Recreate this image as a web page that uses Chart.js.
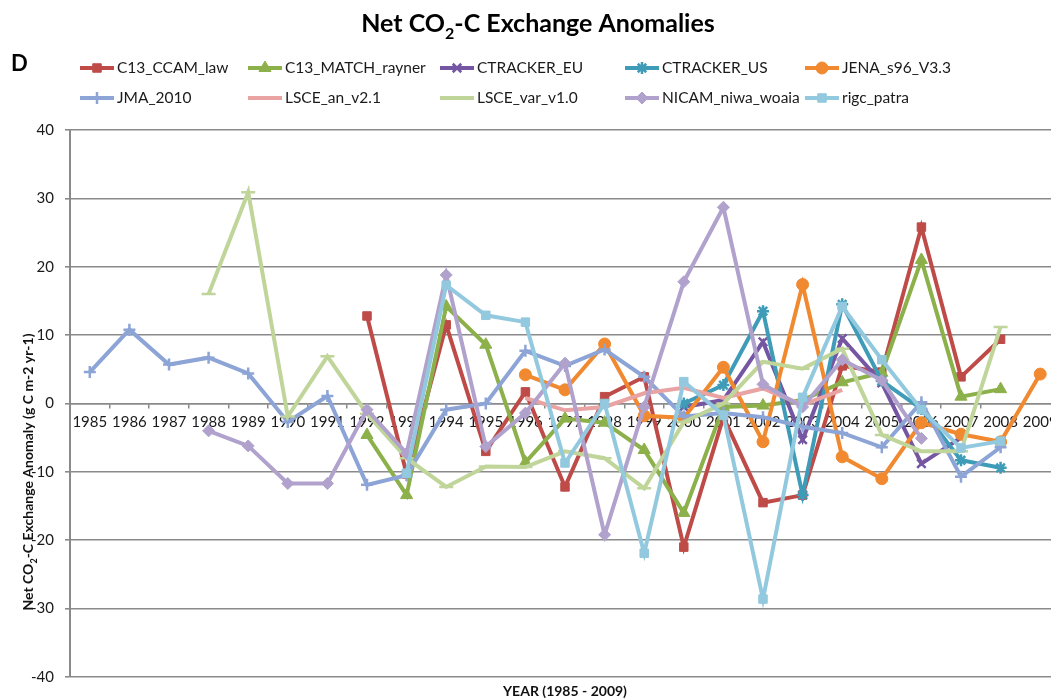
<!DOCTYPE html>
<html lang="en">
<head>
<meta charset="UTF-8">
<title>Net CO2-C Exchange Anomalies</title>
<script src="https://cdn.jsdelivr.net/npm/chart.js@4"></script>
<style>
  html, body { margin: 0; padding: 0; background: #fff; overflow: hidden; }
  #wrap { position: relative; width: 1051px; height: 699px; overflow: hidden; }
  #chart { position: absolute; left: 0; top: 0; }
</style>
</head>
<body>
<div id="wrap"><canvas id="chart" width="1075" height="699"></canvas></div>
<script>
// years on the category axis
const years = ['1985','1986','1987','1988','1989','1990','1991','1992','1993','1994','1995','1996',
  '1997','1998','1999','2000','2001','2002','2003','2004','2005','2006','2007','2008','2009'];

// anomalies, g C m-2 yr-1 (null = no value for that year)
const c13CcamLaw = [null,null,null,null,null,null,null,12.8,-10.3,11.5,-7.0,1.7,-12.2,1.0,3.9,-21.0,-2.0,-14.5,-13.4,5.5,4.6,25.8,3.9,9.4,null];
const c13MatchRayner = [null,null,null,null,null,null,null,-4.6,-13.4,14.2,8.6,-8.6,-2.2,-2.8,-6.8,-16.0,-0.5,-0.3,0.5,3.1,4.5,21.0,1.0,2.1,null];
const ctrackerEu = [null,null,null,null,null,null,null,null,null,null,null,null,null,null,null,-0.5,0.5,9.0,-5.3,9.5,3.0,-8.8,-5.0,null,null];
const ctrackerUs = [null,null,null,null,null,null,null,null,null,null,null,null,null,null,null,0.0,2.7,13.5,-13.4,14.5,3.3,-0.8,-8.3,-9.4,null];
const jenaS96 = [null,null,null,null,null,null,null,null,null,null,null,4.2,2.0,8.7,-1.8,-2.1,5.3,-5.6,17.4,-7.8,-11.0,-2.8,-4.5,-5.6,4.3];
const jma2010 = [4.6,10.8,5.7,6.7,4.4,-2.7,1.1,-11.9,-10.5,-0.9,0.0,7.7,5.5,7.9,3.9,-1.9,-1.4,-2.0,-3.4,-4.3,-6.4,0.2,-10.7,-6.4,null];
const lsceAn = [null,null,null,null,null,null,null,null,null,null,null,0.8,-1.0,-0.5,1.5,2.3,0.8,2.2,-0.2,2.0,null,null,null,null,null];
const lsceVar = [null,null,null,16.0,30.9,-1.9,6.9,-1.5,-8.0,-12.2,-9.2,-9.3,-7.0,-8.0,-12.4,-2.7,0.0,6.1,5.1,8.0,-4.6,-7.0,-7.0,11.2,null];
const nicamWoaia = [null,null,null,-4.0,-6.2,-11.7,-11.7,-0.9,-7.3,18.8,-6.3,-1.4,5.9,-19.2,-0.5,17.8,28.7,2.8,-0.5,6.4,3.4,-5.1,null,null,null];
const rigcPatra = [null,null,null,null,null,null,null,null,-10.2,17.3,12.9,11.9,-8.7,0.0,-21.9,3.2,-1.7,-28.6,0.9,14.2,6.4,-0.9,-6.5,-5.5,null];

const seriesNames = ['C13_CCAM_law','C13_MATCH_rayner','CTRACKER_EU','CTRACKER_US','JENA_s96_V3.3',
  'JMA_2010','LSCE_an_v2.1','LSCE_var_v1.0','NICAM_niwa_woaia','rigc_patra'];
const seriesValues = [c13CcamLaw, c13MatchRayner, ctrackerEu, ctrackerUs, jenaS96,
  jma2010, lsceAn, lsceVar, nicamWoaia, rigcPatra];

// look of each series: colour, marker, marker size
const looks = [
  { color: '#BE4B48', marker: 'rect',     r: 6 },
  { color: '#8CB04A', marker: 'triangle', r: 7 },
  { color: '#7556A2', marker: 'crossRot', r: 6 },
  { color: '#3F9CB8', marker: 'star',     r: 6 },
  { color: '#F0892F', marker: 'circle',   r: 6 },
  { color: '#8CA5D6', marker: 'cross',    r: 6 },
  { color: '#E9A3A2', marker: false,      r: 0 },
  { color: '#C0D59A', marker: 'line',     r: 7 },
  { color: '#B0A2CC', marker: 'rectRot',  r: 6 },
  { color: '#93C9DE', marker: 'rect',     r: 6 }
];
const stroked = ['crossRot', 'star', 'cross', 'line'];

const FONT = 'Lato, "Open Sans", sans-serif';
const GRID = '#8a8a8a';

const datasets = seriesNames.map((name, i) => {
  const lk = looks[i];
  return {
    label: name,
    data: seriesValues[i],
    borderColor: lk.color,
    backgroundColor: lk.color,
    borderWidth: 4,
    pointStyle: lk.marker,
    pointRadius: lk.r,
    pointHoverRadius: lk.r,
    pointBorderWidth: stroked.includes(lk.marker) ? 2.5 : 1,
    tension: 0,
    spanGaps: false,
    order: seriesNames.length - i   // first series at the bottom, last on top
  };
});

// draws text where some pieces are subscripts
function drawRich(ctx, parts, x, y, size, weight, align) {
  const mainFont = `${weight} ${size}px ${FONT}`;
  const subFont = `${weight} ${Math.round(size * 0.62)}px ${FONT}`;
  let total = 0;
  parts.forEach(([t, sub]) => { ctx.font = sub ? subFont : mainFont; total += ctx.measureText(t).width; });
  let cx = align === 'center' ? x - total / 2 : x;
  ctx.textAlign = 'left';
  ctx.textBaseline = 'alphabetic';
  parts.forEach(([t, sub]) => {
    ctx.font = sub ? subFont : mainFont;
    ctx.fillText(t, cx, sub ? y + size * 0.28 : y);
    cx += ctx.measureText(t).width;
  });
}

const decorations = {
  id: 'decorations',
  afterDraw(chart) {
    const ctx = chart.ctx;
    ctx.save();
    ctx.fillStyle = '#000';

    // title
    drawRich(ctx, [['Net CO', false], ['2', true], ['-C Exchange Anomalies', false]], 538, 32, 25, 'bold', 'center');

    // panel letter
    ctx.font = `bold 22px ${FONT}`;
    ctx.textAlign = 'left';
    ctx.fillText('D', 11, 71);

    // legend in five columns, two rows
    const cols = [80, 248, 440, 625, 805];
    const rows = [68, 98];
    datasets.forEach((ds, i) => {
      const x0 = cols[i % 5], y0 = rows[Math.floor(i / 5)];
      ctx.strokeStyle = ds.borderColor;
      ctx.fillStyle = ds.backgroundColor;
      ctx.lineWidth = 4;
      ctx.beginPath();
      ctx.moveTo(x0, y0);
      ctx.lineTo(x0 + 34, y0);
      ctx.stroke();
      if (ds.pointStyle) {
        ctx.lineWidth = ds.pointBorderWidth;
        Chart.helpers.drawPoint(ctx, { pointStyle: ds.pointStyle, radius: ds.pointRadius, borderWidth: ds.pointBorderWidth, rotation: 0 }, x0 + 17, y0);
      }
      ctx.fillStyle = '#1a1a1a';
      ctx.font = `15.5px ${FONT}`;
      ctx.textBaseline = 'middle';
      ctx.fillText(ds.label, x0 + 37, y0);
    });

    // y axis title, rotated
    ctx.save();
    ctx.translate(33, 472);
    ctx.rotate(-Math.PI / 2);
    ctx.fillStyle = '#111';
    drawRich(ctx, [['Net CO', false], ['2', true], ['-C Exchange Anomaly (g C m-2 yr-1)', false]], 0, 0, 14, 'bold', 'center');
    ctx.restore();

    // x axis title
    ctx.fillStyle = '#111';
    ctx.font = `bold 14px ${FONT}`;
    ctx.textAlign = 'center';
    ctx.textBaseline = 'middle';
    ctx.fillText('YEAR (1985 - 2009)', 565, 691);
    ctx.restore();
  }
};

new Chart(document.getElementById('chart'), {
  type: 'line',
  data: { labels: years, datasets },
  options: {
    responsive: false,
    animation: false,
    events: [],
    layout: { padding: { top: 130, bottom: 22, left: 0, right: 15 } },
    plugins: { legend: { display: false }, title: { display: false }, tooltip: { enabled: false } },
    scales: {
      x: {
        type: 'category',
        position: { y: 0 },
        offset: true,
        grid: { offset: true, drawOnChartArea: false, drawTicks: true, tickLength: 4, color: GRID, lineWidth: 1.5 },
        border: { color: GRID, width: 1.5 },
        ticks: { color: '#1a1a1a', font: { family: FONT, size: 15 }, padding: 6, maxRotation: 0, autoSkip: false }
      },
      y: {
        min: -40,
        max: 40,
        afterFit(scale) { scale.width = 70; },
        grid: { color: GRID, lineWidth: 1.6, tickLength: 5 },
        border: { color: GRID, width: 2 },
        ticks: { stepSize: 10, color: '#1a1a1a', font: { family: FONT, size: 15 }, padding: 11 }
      }
    }
  },
  plugins: [decorations]
});
</script>
</body>
</html>
